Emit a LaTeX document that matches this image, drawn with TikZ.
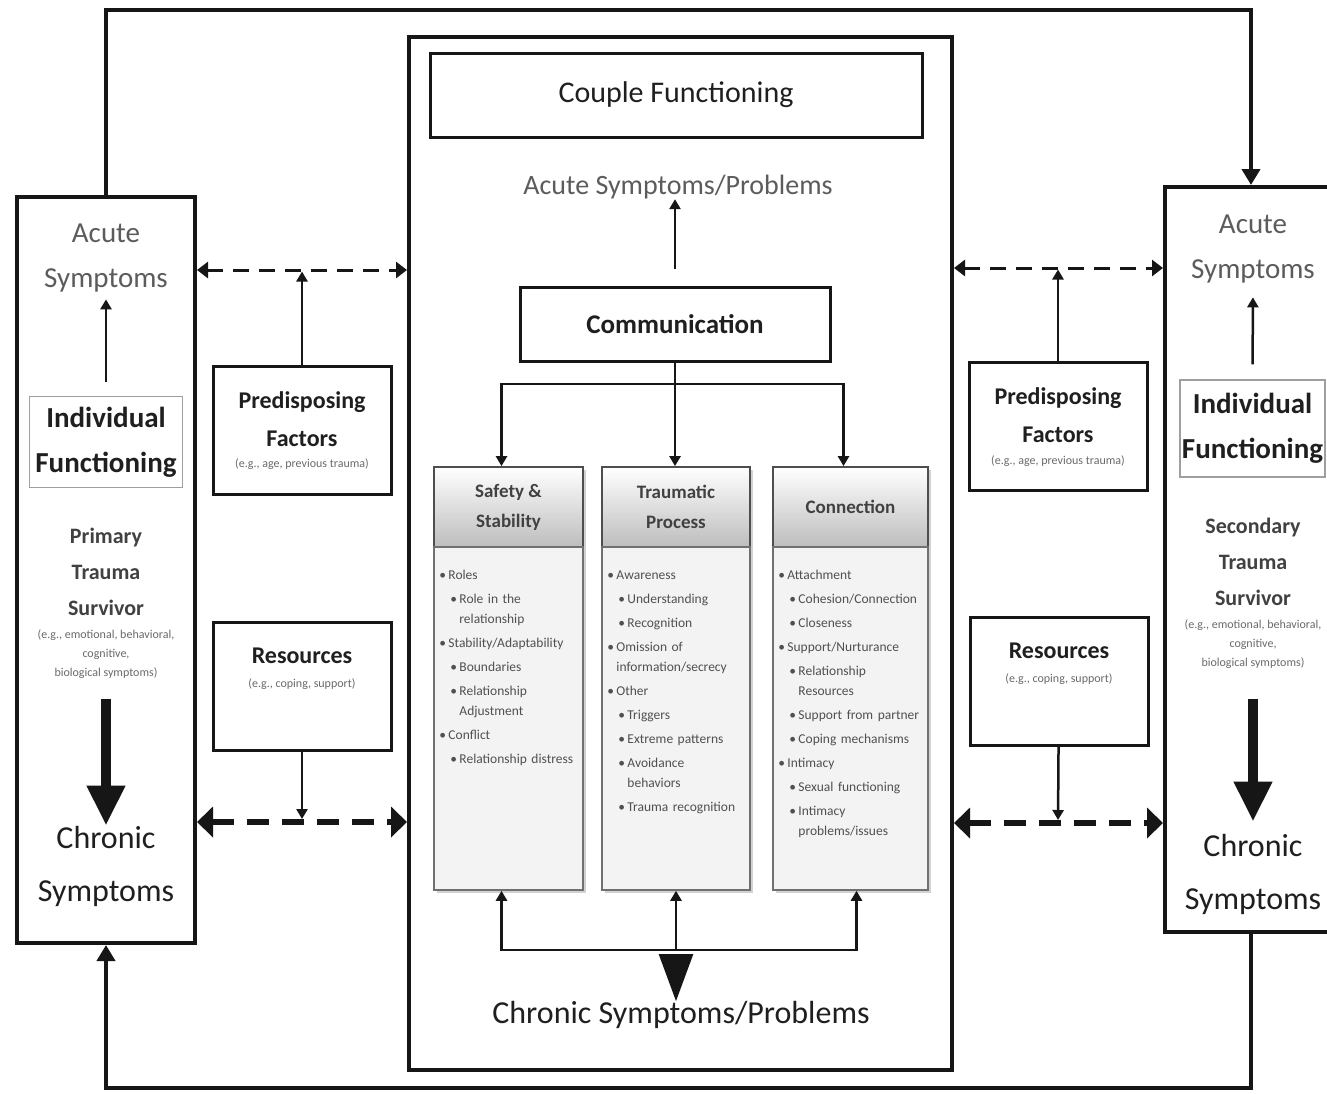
\documentclass[tikz,border=0pt]{standalone}
\usepackage{fontspec}
\setmainfont{Carlito}
\usepackage{xcolor}
\usetikzlibrary{positioning,arrows.meta,calc,shadows}
\definecolor{frameInk}{HTML}{161616}
\definecolor{textInk}{HTML}{1F1F1F}
\definecolor{acuteGrey}{HTML}{5C5C5C}
\definecolor{listInk}{HTML}{505050}
\definecolor{noteGrey}{HTML}{6A6A6A}
\definecolor{colFill}{HTML}{F3F3F3}
\definecolor{colEdge}{HTML}{707070}
\definecolor{headShade}{HTML}{BDBDBD}

% bullet levels for the three column lists
\newcommand{\lvone}[1]{\par\hangindent=9pt\hangafter=1\noindent\makebox[9pt][l]{\textbullet}#1}
\newcommand{\lvtwo}[1]{\par\hangindent=20pt\hangafter=1\noindent\hspace*{11pt}\makebox[9pt][l]{\textbullet}#1}

\begin{document}
\begin{tikzpicture}[
  x=1pt,
  y=-1pt,
  panel/.style={draw=frameInk, line width=4pt, inner sep=0pt},
  titlebox/.style={draw=frameInk, line width=3pt, inner sep=0pt, font=\fontsize{30}{36}\selectfont, text=textInk},
  sidebox/.style={draw=frameInk, line width=3pt, minimum width=178pt, minimum height=128pt, inner sep=0pt},
  indbox/.style={draw=gray!75, line width=1.5pt, inner sep=0pt, align=center,
    font=\bfseries\fontsize{29}{45}\selectfont, text=textInk},
  acute/.style={align=center, inner sep=0pt, text=acuteGrey, font=\fontsize{29}{45}\selectfont},
  chronic/.style={align=center, inner sep=0pt, text=textInk, font=\fontsize{32}{53}\selectfont},
  survivor/.style={align=center, inner sep=0pt, text=textInk!85, font=\bfseries\fontsize{22}{36}\selectfont},
  note/.style={align=center, inner sep=0pt, text=noteGrey, font=\fontsize{12}{19}\selectfont},
  sidehead/.style={align=center, inner sep=0pt, text=textInk, font=\bfseries\fontsize{24}{38}\selectfont},
  colhead/.style={draw=colEdge!70!black, line width=1.8pt, top color=white, bottom color=headShade,
    minimum height=80pt, inner sep=0pt, align=center, font=\bfseries\fontsize{19}{30}\selectfont, text=textInk!85,
    drop shadow={shadow xshift=2.5pt, shadow yshift=-2.5pt, opacity=0.35}},
  colbody/.style={draw=colEdge, line width=1.5pt, fill=colFill, minimum height=343pt, inner sep=0pt,
    drop shadow={shadow xshift=2.5pt, shadow yshift=-2.5pt, opacity=0.35}},
  listtext/.style={text width=165pt, align=left, inner sep=0pt, text=listInk,
    font=\fontsize{13.5}{20}\selectfont\setlength{\parskip}{4pt}},
  thinarrow/.style={-{Triangle[length=10pt,width=11pt]}, line width=2.5pt, draw=frameInk},
  looparrow/.style={-{Triangle[length=16pt,width=18pt]}, line width=4pt, draw=frameInk},
  dashpair/.style={{Triangle[length=11pt,width=16pt]}-{Triangle[length=11pt,width=16pt]}, line width=3pt,
    dash pattern=on 16pt off 10pt, draw=frameInk},
  heavydash/.style={{Triangle[length=16pt,width=30pt]}-{Triangle[length=16pt,width=30pt]}, line width=6pt,
    dash pattern=on 22pt off 13pt, draw=frameInk},
  bigdown/.style={-{Triangle[length=40pt,width=36pt]}, line width=10pt, draw=frameInk},
  fatdrop/.style={-{Triangle[length=47pt,width=34pt]}, line width=2.5pt, draw=frameInk}
]
\fill[white] (0,0) rectangle (1327,1093);
\useasboundingbox (0,0) rectangle (1327,1093);

% outer frames
\node[panel, minimum width=178pt, minimum height=746pt] (lpanel) at (106,570) {};
\node[panel, minimum width=172pt, minimum height=745pt] (rpanel) at (1251,559.5) {};
\node[panel, minimum width=543pt, minimum height=1033pt] (hub) at (680.5,553.5) {};

% centre
\node[titlebox, minimum width=492pt, minimum height=84pt] (couple) at (676,95) {Couple Functioning};
\node[acute, font=\fontsize{28}{34}\selectfont] (acuteC) at (678,187) {Acute Symptoms/Problems};
\node[titlebox, font=\bfseries\fontsize{27}{32}\selectfont, minimum width=310pt, minimum height=74pt] (comm) at (675,324) {Communication};

\node[colhead, minimum width=149pt] (sfhead) at (508.5,507) {Safety \&\\Stability};
\node[colbody, minimum width=149pt] (sfbody) at (508.5,718.5) {};
\node[listtext, below right=9pt and 6pt of sfbody.north west] (sflist) {%
  \lvone{Roles}\lvtwo{Role in the\newline relationship}\lvone{Stability/Adaptability}%
  \lvtwo{Boundaries}\lvtwo{Relationship\newline Adjustment}\lvone{Conflict}\lvtwo{Relationship distress}\par};

\node[colhead, minimum width=148pt] (trhead) at (676,507) {Traumatic\\Process};
\node[colbody, minimum width=148pt] (trbody) at (676,718.5) {};
\node[listtext, below right=9pt and 6pt of trbody.north west] (trlist) {%
  \lvone{Awareness}\lvtwo{Understanding}\lvtwo{Recognition}\lvone{Omission of\newline information/secrecy}%
  \lvone{Other}\lvtwo{Triggers}\lvtwo{Extreme patterns}\lvtwo{Avoidance\newline behaviors}\lvtwo{Trauma recognition}\par};

\node[colhead, minimum width=155pt] (cnhead) at (850.5,507) {Connection};
\node[colbody, minimum width=155pt] (cnbody) at (850.5,718.5) {};
\node[listtext, below right=9pt and 6pt of cnbody.north west] (cnlist) {%
  \lvone{Attachment}\lvtwo{Cohesion/Connection}\lvtwo{Closeness}\lvone{Support/Nurturance}%
  \lvtwo{Relationship\newline Resources}\lvtwo{Support from partner}\lvtwo{Coping mechanisms}%
  \lvone{Intimacy}\lvtwo{Sexual functioning}\lvtwo{Intimacy\newline problems/issues}\par};

\node[chronic, font=\fontsize{32}{38}\selectfont] (chronicC) at (681,1015) {Chronic Symptoms/Problems};

% left survivor
\node[acute] (lacute) at (106,258) {Acute\\Symptoms};
\node[indbox, minimum width=153pt, minimum height=91pt] (lind) at (106,442) {Individual\\Functioning};
\node[survivor] (lsurv) at (106,572) {Primary\\Trauma\\Survivor};
\node[note] (lnote) at (106,654) {(e.g., emotional, behavioral,\\cognitive,\\biological symptoms)};
\node[chronic] (lchronic) at (106,866) {Chronic\\Symptoms};

% right survivor
\node[acute] (racute) at (1253,249) {Acute\\Symptoms};
\node[indbox, minimum width=145pt, minimum height=97pt] (rind) at (1252.5,428.5) {Individual\\Functioning};
\node[survivor] (rsurv) at (1253,562) {Secondary\\Trauma\\Survivor};
\node[note] (rnote) at (1253,644) {(e.g., emotional, behavioral,\\cognitive,\\biological symptoms)};
\node[chronic] (rchronic) at (1253,874) {Chronic\\Symptoms};

% factor boxes
\node[sidebox] (lpre) at (302,430) {};
\node[sidehead] (lpreHead) at (302,419) {Predisposing\\Factors};
\node[note] (lpreNote) at (302,464) {(e.g., age, previous trauma)};
\node[sidebox] (lres) at (302,686) {};
\node[sidehead] (lresHead) at (302,656) {Resources};
\node[note] (lresNote) at (302,684) {(e.g., coping, support)};

\node[sidebox] (rpre) at (1058,426) {};
\node[sidehead] (rpreHead) at (1058,415) {Predisposing\\Factors};
\node[note] (rpreNote) at (1058,461) {(e.g., age, previous trauma)};
\node[sidebox] (rres) at (1059,681) {};
\node[sidehead] (rresHead) at (1059,651) {Resources};
\node[note] (rresNote) at (1059,679) {(e.g., coping, support)};

\coordinate (ldU) at (302,270);
\coordinate (ldL) at (302,822);
\coordinate (rdU) at (1058,268);
\coordinate (rdL) at (1058,823);
\coordinate (loopTop) at (0,10);
\coordinate (loopBot) at (0,1088);
\coordinate (forkTop) at (675,384);
\coordinate (forkBot) at (676,950);

% dashed links
\draw[dashpair] (lpanel.east |- ldU) -- (hub.west |- ldU);
\draw[heavydash] (lpanel.east |- ldL) -- (hub.west |- ldL);
\draw[dashpair] (hub.east |- rdU) -- (rpanel.west |- rdU);
\draw[heavydash] (hub.east |- rdL) -- (rpanel.west |- rdL);
\draw[thinarrow, shorten >=1.5pt] (lpre) -- (ldU);
\draw[thinarrow, shorten >=3pt] (lres) -- (ldL);
\draw[thinarrow, shorten >=1.5pt] (rpre) -- (rdU);
\draw[thinarrow, shorten >=3pt] (rres) -- (rdL);

% outer loop
\draw[looparrow] (lpanel.north) |- (rpanel.north |- loopTop) -- (rpanel.north);
\draw[looparrow] (rpanel.south) |- (lpanel.south |- loopBot) -- (lpanel.south);

% inside survivors
\draw[thinarrow, shorten <=14pt, shorten >=7pt] (lind.north) -- (lacute.south);
\draw[thinarrow, shorten <=15pt, shorten >=14pt] (rind.north) -- (racute.south);
\draw[bigdown, shorten <=20pt] (lnote.south) -- (lchronic.north);
\draw[bigdown, shorten <=30pt, shorten >=12pt] (rnote.south) -- (rchronic.north);

% centre links
\draw[thinarrow, shorten <=17pt] (comm.north) -- (comm.north |- acuteC.south);
\draw[thinarrow] (comm.south) -- (comm.south |- trhead.north);
\draw[thinarrow] (forkTop) -| ([xshift=-7pt]sfhead.north);
\draw[thinarrow] (forkTop) -| ([xshift=-7pt]cnhead.north);
\draw[thinarrow] (forkBot) -| ([xshift=-7pt]sfbody.south);
\draw[thinarrow] (forkBot) -- (trbody.south);
\draw[thinarrow] (forkBot) -| ([xshift=6pt]cnbody.south);
\draw[fatdrop, shorten <=7pt] (forkBot) -- (forkBot |- chronicC.north);
\end{tikzpicture}
\end{document}
